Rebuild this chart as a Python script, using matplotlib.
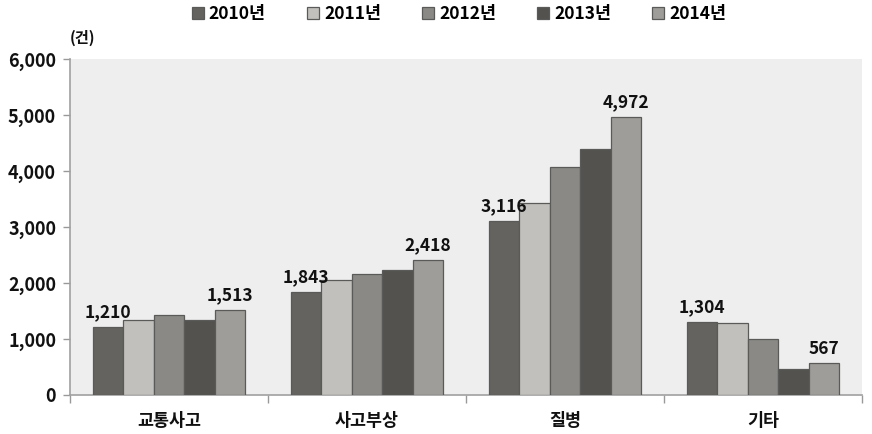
import matplotlib
matplotlib.use("Agg")
import matplotlib.pyplot as plt
from matplotlib.patches import Patch
from matplotlib.ticker import FuncFormatter, FixedLocator
import numpy as np

plt.rcParams['font.family'] = ['Noto Sans CJK KR', 'DejaVu Sans']

categories = ['교통사고', '사고부상', '질병', '기타']
years = ['2010년', '2011년', '2012년', '2013년', '2014년']
v2010 = [1210, 1843, 3116, 1304]
v2011 = [1345, 2052, 3420, 1280]
v2012 = [1435, 2164, 4065, 995]
v2013 = [1345, 2236, 4390, 470]
v2014 = [1513, 2418, 4972, 567]
series = [v2010, v2011, v2012, v2013, v2014]
labeled_series = [0, 4]
colors = ['#64635F', '#C1C0BC', '#8A8985', '#53524F', '#9E9D99']
yticks = [0, 1000, 2000, 3000, 4000, 5000, 6000]
unit_label = '(건)'

W, H = 872, 434
fig = plt.figure(figsize=(W / 100, H / 100), dpi=100)
ax = fig.add_axes([70 / W, 1 - 395 / H, (862 - 70) / W, (395 - 59) / H])
ax.set_facecolor('#EEEEEE')

x = np.arange(len(categories))
bw = 0.1535
fs = 12.5
for j, vals in enumerate(series):
    xs = x + (j - 2) * bw
    ax.bar(xs, vals, width=bw, color=colors[j], edgecolor='#5A5A58',
           linewidth=0.9, zorder=3)
    if j in labeled_series:
        for xi, v in zip(xs, vals):
            ax.annotate(f'{v:,}', (xi, v), xytext=(0, 4), textcoords='offset points',
                        ha='center', va='bottom', fontsize=fs, fontweight='bold',
                        color='#111111', zorder=5)

ax.set_xlim(-0.5, len(categories) - 0.5)
ax.set_ylim(0, 6000)
ax.set_yticks(yticks)
ax.yaxis.set_major_formatter(FuncFormatter(lambda v, p: f'{int(v):,}'))
ax.set_xticks(x)
ax.set_xticklabels(categories)
ax.xaxis.set_minor_locator(FixedLocator(np.arange(len(categories) + 1) - 0.5))
ax.tick_params(axis='x', which='major', length=0, pad=12, labelsize=fs, labelcolor='#111111')
ax.tick_params(axis='x', which='minor', length=6, width=1, color='#999999', direction='out')
ax.tick_params(axis='y', length=5, width=1, color='#999999', direction='out', pad=5,
               labelsize=13, labelcolor='#111111')
for lab in ax.get_xticklabels() + ax.get_yticklabels():
    lab.set_fontweight('bold')

for s in ['top', 'right']:
    ax.spines[s].set_visible(False)
for s in ['left', 'bottom']:
    ax.spines[s].set_color('#A0A0A0')
    ax.spines[s].set_linewidth(1.2)

fig.text(82 / W, 1 - 38 / H, unit_label, ha='center', va='center', fontsize=11,
         fontweight='bold', color='#111111')

handles = [Patch(facecolor=c, edgecolor='#5A5A58', linewidth=0.9) for c in colors]
fig.legend(handles, years, loc='upper center', bbox_to_anchor=(459 / W, 1.0), ncol=5,
           frameon=False, prop={'size': fs, 'weight': 'bold'}, handlelength=0.7,
           handleheight=0.7, handletextpad=0.3, columnspacing=2.35, borderpad=0.1,
           borderaxespad=0.2)

fig.savefig('out.png', dpi=100)
